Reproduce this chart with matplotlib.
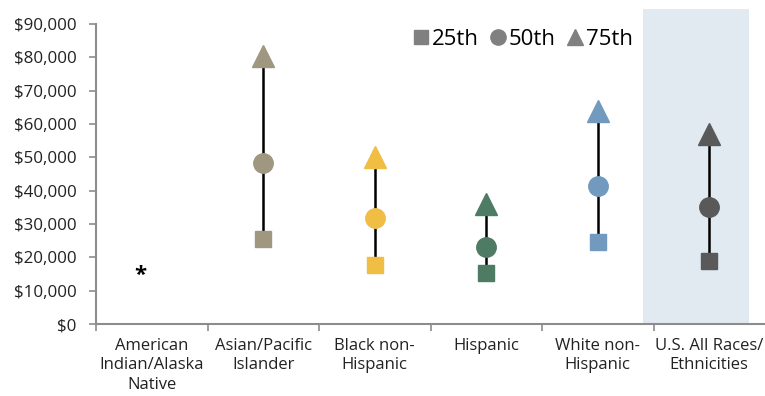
import matplotlib.pyplot as plt
from matplotlib.lines import Line2D
from matplotlib.ticker import FuncFormatter, FixedLocator

plt.rcParams['font.family'] = ['Open Sans', 'DejaVu Sans']

# income percentiles by group (American Indian/Alaska Native suppressed)
groups = ['American\nIndian/Alaska\nNative', 'Asian/Pacific\nIslander',
          'Black non-\nHispanic', 'Hispanic', 'White non-\nHispanic',
          'U.S. All Races/\nEthnicities']
p25 = [None, 25500, 17600, 15300, 24600, 18800]
p50 = [None, 48300, 31900, 23000, 41300, 35200]
p75 = [None, 80300, 50200, 36000, 63900, 57000]
colors = [None, '#A09781', '#F0BD45', '#4E7B64', '#729ABF', '#595959']

fig = plt.figure(figsize=(7.65, 3.96), dpi=100)
ax = fig.add_axes([96/765, 72/396, 669/765, 315/396])

ax.axvspan(4.41, 5.36, color='#E1E9F1', lw=0, zorder=0)

for i in range(len(groups)):
    if p25[i] is None:
        ax.text(i - 0.1, 14600, '*', ha='center', va='center',
                fontsize=16, fontweight='bold', color='black')
        continue
    c = colors[i]
    ax.plot([i, i], [p25[i], p75[i]], color='black', lw=1.8, zorder=2)
    ax.plot(i, p25[i], 's', color=c, markersize=11.5, zorder=3)
    ax.plot(i, p50[i], 'o', color=c, markersize=14, zorder=3)
    ax.plot(i, p75[i], '^', color=c, markersize=15.5, zorder=3)

ax.set_xlim(-0.5, 5.5)
ax.set_ylim(0, 94500)
ax.set_yticks(range(0, 90001, 10000))
ax.yaxis.set_major_formatter(FuncFormatter(lambda v, p: '${:,.0f}'.format(v)))

ax.set_xticks(range(len(groups)))
ax.set_xticklabels(groups, fontsize=12, color='#222222', linespacing=1.3)
ax.xaxis.set_minor_locator(FixedLocator([-0.5, 0.5, 1.5, 2.5, 3.5, 4.5]))
ax.tick_params(axis='x', which='major', length=0, pad=10)
ax.tick_params(axis='x', which='minor', length=5, width=1.2, color='#8c8c8c')
ax.tick_params(axis='y', length=5, width=1.2, color='#8c8c8c',
               labelsize=12.2, labelcolor='#222222', pad=9)

for s in ['top', 'right']:
    ax.spines[s].set_visible(False)
for s in ['left', 'bottom']:
    ax.spines[s].set_color('#8c8c8c')
    ax.spines[s].set_linewidth(1.5)
ax.spines['left'].set_bounds(0, 90000)

handles = [Line2D([], [], marker='s', ls='none', color='#808080', markersize=10.5),
           Line2D([], [], marker='o', ls='none', color='#808080', markersize=11),
           Line2D([], [], marker='^', ls='none', color='#808080', markersize=11)]
ax.legend(handles, ['25th', '50th', '75th'], ncol=3, frameon=False,
          loc='upper left', bbox_to_anchor=(0.444, 1.0), fontsize=16,
          handlelength=0.7, handletextpad=0.15, columnspacing=0.5)

fig.savefig('out.png', dpi=100)
